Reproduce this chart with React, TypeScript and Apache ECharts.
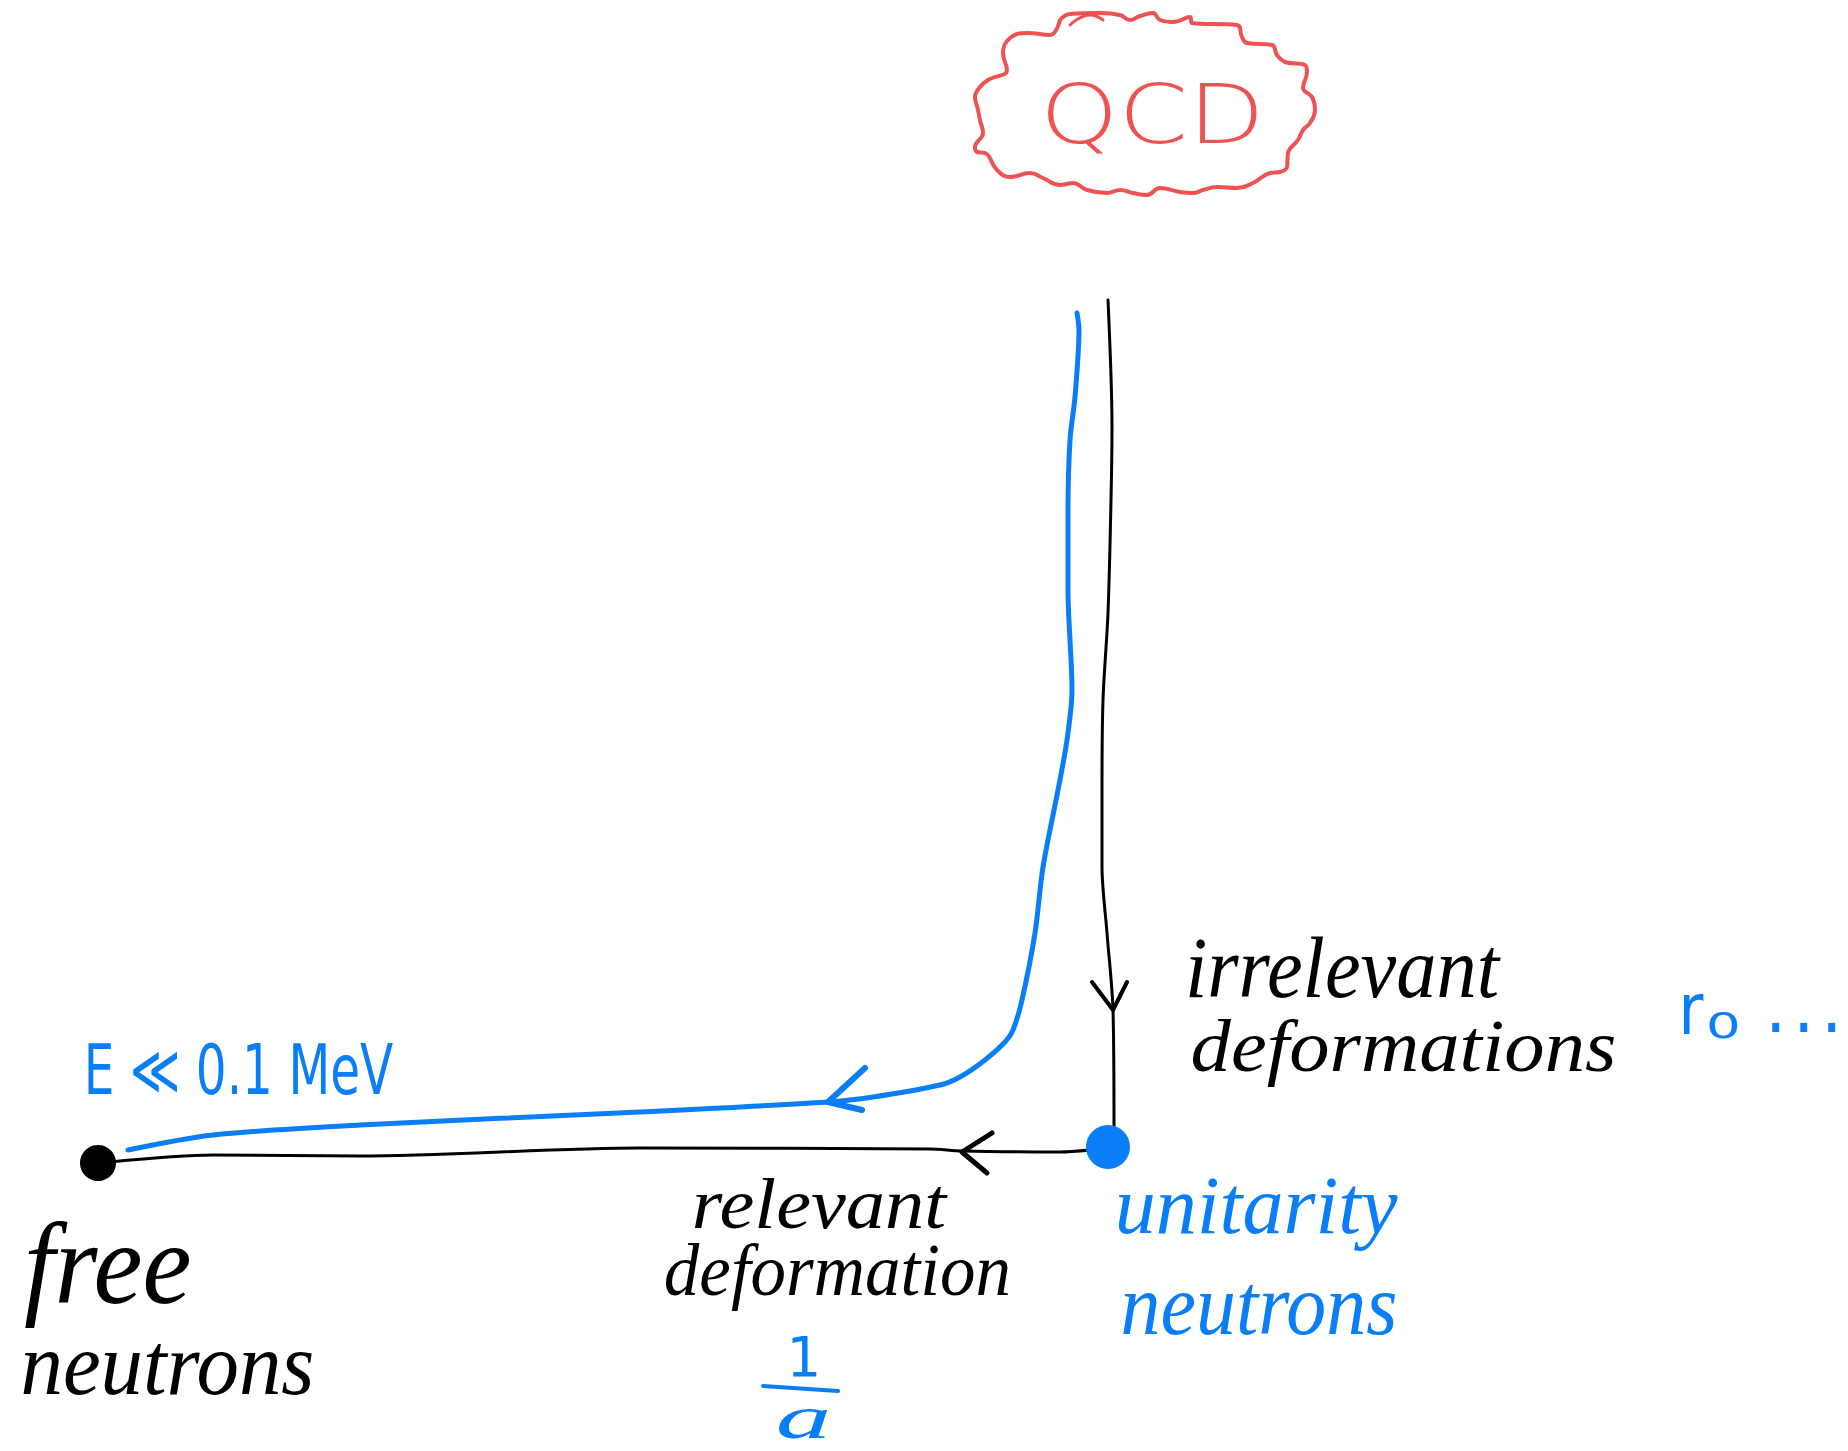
import React, { useEffect, useRef } from "react";
import * as echarts from "echarts";

const W = 1848;
const H = 1451;

const BLUE = "#0a7ef6";
const RED = "#ef5252";
const BLACK = "#000000";

// ---- drawn marks, in page units (x to the right, y downward) ----
const qcdCloud: number[][] = [
  [1060, 20], [1070, 14], [1100, 13], [1120, 15], [1130, 20], [1140, 16], [1153, 13], [1160, 20],
  [1173, 22], [1190, 17], [1192, 23], [1237, 25], [1242, 37], [1247, 43], [1272, 45], [1277, 55],
  [1285, 62], [1305, 65], [1307, 72], [1303, 88], [1312, 97], [1315, 110], [1310, 123], [1303, 130],
  [1298, 140], [1288, 153], [1287, 167], [1280, 172], [1270, 173], [1253, 183], [1237, 188],
  [1217, 187], [1203, 190], [1193, 193], [1180, 192], [1160, 188], [1147, 195], [1133, 193],
  [1120, 190], [1107, 193], [1087, 190], [1073, 183], [1060, 185], [1043, 178], [1030, 173],
  [1010, 177], [997, 170], [985, 153], [977, 152], [975, 147], [983, 133], [980, 120], [978, 110],
  [975, 97], [980, 87], [988, 80], [1007, 70], [1003, 53], [1010, 38], [1027, 33], [1050, 35],
  [1060, 20],
];
const cloudFlick: number[][] = [[1070, 25], [1090, 15], [1103, 20]];

const irrelevantFlow: number[][] = [
  [1108, 300], [1112, 427], [1111, 500], [1108, 613], [1103, 700], [1102, 790], [1102, 867],
  [1107, 933], [1113, 1010], [1114, 1127],
];
const irrelevantArrow: number[][] = [[1092, 982], [1113, 1010], [1127, 982]];

const relevantFlow: number[][] = [
  [1090, 1150], [1060, 1152], [962, 1151], [930, 1149], [640, 1148], [360, 1156], [213, 1155],
  [110, 1162],
];
const relevantArrow: number[][] = [[992, 1133], [962, 1152], [987, 1173]];

const physicalFlow: number[][] = [
  [1077, 313], [1079, 330], [1075, 397], [1070, 440], [1068, 513], [1068, 590], [1072, 690],
  [1067, 740], [1058, 790], [1043, 867], [1035, 933], [1022, 1000], [1013, 1030], [1005, 1042],
  [985, 1060], [960, 1077], [940, 1085], [873, 1097], [828, 1102], [640, 1112], [360, 1125],
  [213, 1135], [128, 1150],
];
const physicalArrow: number[][] = [[865, 1068], [828, 1102], [862, 1110]];

const fractionBar: number[][] = [[763, 1386], [838, 1391]];

const unitarityPoint: number[][] = [[1108, 1147]];
const freePoint: number[][] = [[98, 1163]];

// ---- texts ----
const SERIF = "'Liberation Serif', 'DejaVu Serif', serif";
const SANS = "'DejaVu Sans', 'Liberation Sans', sans-serif";

type Label = {
  text: string;
  family: string;
  italic?: boolean;
  weight?: string;
  color: string;
  left: number;
  right?: number; // if omitted keep aspect
  top: number;
  baseline: number;
};

const labels: Label[] = [
  { text: "QCD", family: SANS, weight: "200", color: RED, left: 1048, right: 1257, top: 75, baseline: 136 },
  { text: "irrelevant", family: SERIF, italic: true, color: BLACK, left: 1189, right: 1501, top: 930, baseline: 990 },
  { text: "deformations", family: SERIF, italic: true, color: BLACK, left: 1193, right: 1614, top: 1013, baseline: 1066 },
  { text: "r", family: SANS, color: BLUE, left: 1684, right: 1704, top: 988, baseline: 1028 },
  { text: "0", family: SANS, color: BLUE, left: 1709, right: 1737, top: 1008, baseline: 1035 },
  { text: ". . .", family: SANS, weight: "bold", color: BLUE, left: 1772, right: 1835, top: 1019, baseline: 1028 },
  { text: "E ≪ 0.1 MeV", family: SANS, color: BLUE, left: 88, right: 393, top: 1036, baseline: 1088 },
  { text: "free", family: SERIF, italic: true, color: BLACK, left: 25, right: 190, top: 1212, baseline: 1295 },
  { text: "neutrons", family: SERIF, italic: true, color: BLACK, left: 23, right: 312, top: 1337, baseline: 1387 },
  { text: "relevant", family: SERIF, italic: true, color: BLACK, left: 695, right: 948, top: 1173, baseline: 1223 },
  { text: "deformation", family: SERIF, italic: true, color: BLACK, left: 666, right: 1008, top: 1237, baseline: 1290 },
  { text: "unitarity", family: SERIF, italic: true, color: BLUE, left: 1118, right: 1398, top: 1173, baseline: 1227 },
  { text: "neutrons", family: SERIF, italic: true, color: BLUE, left: 1123, right: 1395, top: 1278, baseline: 1327 },
  { text: "1", family: SANS, color: BLUE, left: 792, top: 1331, baseline: 1371 },
  { text: "a", family: SERIF, italic: true, color: BLUE, left: 778, right: 828, top: 1404, baseline: 1433 },
];

const FS = 100;

function buildLabelGraphics() {
  const cvs = document.createElement("canvas");
  const ctx = cvs.getContext("2d") as CanvasRenderingContext2D;
  return labels.map((l) => {
    const fontStyle = l.italic ? "italic" : "normal";
    const fontWeight = l.weight || "normal";
    ctx.font = `${fontStyle} ${fontWeight} ${FS}px ${l.family}`;
    ctx.textAlign = "left";
    ctx.textBaseline = "alphabetic";
    const m = ctx.measureText(l.text);
    const inkW = m.actualBoundingBoxLeft + m.actualBoundingBoxRight;
    const ascent = m.actualBoundingBoxAscent;
    ctx.textBaseline = "middle";
    const m2 = ctx.measureText(l.text);
    const off = ascent - m2.actualBoundingBoxAscent; // baseline below middle line
    const sy = (l.baseline - l.top) / ascent;
    const sx = l.right != null ? (l.right - l.left) / inkW : sy;
    return {
      type: "text",
      x: l.left + m.actualBoundingBoxLeft * sx,
      y: l.baseline - off * sy,
      scaleX: sx,
      scaleY: sy,
      silent: true,
      z: 10,
      style: {
        text: l.text,
        x: 0,
        y: 0,
        fontSize: FS,
        lineHeight: FS * 0.7,
        fontFamily: l.family,
        fontStyle,
        fontWeight,
        fill: l.color,
        align: "left",
        verticalAlign: "middle",
      },
    };
  });
}

function lineSeries(data: number[][], color: string, width: number, smooth: number | boolean, z = 2) {
  return {
    type: "line",
    data,
    showSymbol: false,
    symbol: "none",
    smooth,
    silent: true,
    z,
    lineStyle: { color, width, cap: "round", join: "round" },
  };
}

export default function App() {
  const ref = useRef<HTMLDivElement>(null);
  useEffect(() => {
    if (!ref.current) return;
    const chart = echarts.init(ref.current, null, { renderer: "svg" });
    chart.setOption({
      animation: false,
      backgroundColor: "#ffffff",
      grid: { left: 0, right: 0, top: 0, bottom: 0 },
      xAxis: { type: "value", min: 0, max: W, show: false },
      yAxis: { type: "value", min: 0, max: H, inverse: true, show: false },
      series: [
        lineSeries(qcdCloud, RED, 4, 0.45),
        lineSeries(cloudFlick, RED, 3, 0.5),
        lineSeries(irrelevantFlow, BLACK, 3, 0.3),
        lineSeries(irrelevantArrow, BLACK, 4, false),
        lineSeries(relevantFlow, BLACK, 3, 0.3),
        lineSeries(relevantArrow, BLACK, 5, false),
        lineSeries(physicalFlow, BLUE, 5, 0.3),
        lineSeries(physicalArrow, BLUE, 6, false),
        lineSeries(fractionBar, BLUE, 4, false),
        {
          type: "scatter",
          data: unitarityPoint,
          symbol: "circle",
          symbolSize: 44,
          itemStyle: { color: BLUE, opacity: 1 },
          silent: true,
          z: 5,
        },
        {
          type: "scatter",
          data: freePoint,
          symbol: "circle",
          symbolSize: 36,
          itemStyle: { color: BLACK, opacity: 1 },
          silent: true,
          z: 5,
        },
      ],
      graphic: buildLabelGraphics(),
    });
    return () => chart.dispose();
  }, []);
  return (
    <div
      ref={ref}
      style={{ position: "absolute", left: 0, top: 0, width: W, height: H, background: "#fff" }}
    />
  );
}
